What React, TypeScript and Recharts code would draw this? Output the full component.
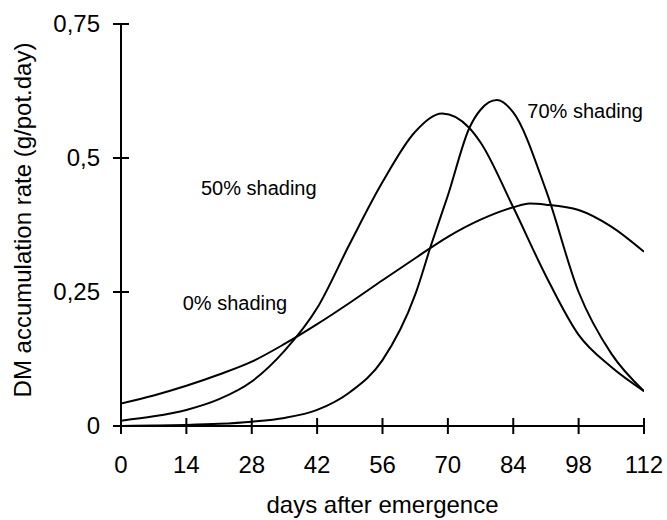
import React from 'react';
import { LineChart, Line, XAxis, YAxis, ReferenceDot } from 'recharts';

const xTicks = [0, 14, 28, 42, 56, 70, 84, 98, 112];
const yTicks = [0, 0.25, 0.5, 0.75];
const yTickLabels = ['0', '0,25', '0,5', '0,75'];

const days0 = [0, 7, 14, 21, 28, 35, 42, 49, 56, 63, 70, 77, 84, 87.5, 91, 98, 105, 112];
const shading0 = [0.042, 0.057, 0.075, 0.096, 0.12, 0.153, 0.19, 0.23, 0.272, 0.313, 0.353, 0.385, 0.408, 0.415, 0.413, 0.403, 0.372, 0.325];

const days50 = [0, 7, 14, 21, 28, 35, 42, 49, 56, 63, 68.8, 74.6, 77, 84, 91, 98, 105, 112];
const shading50 = [0.01, 0.018, 0.03, 0.05, 0.083, 0.14, 0.22, 0.34, 0.455, 0.549, 0.583, 0.556, 0.529, 0.408, 0.28, 0.17, 0.11, 0.065];

const days70 = [0, 7, 14, 21, 28, 35, 42, 49, 56, 63, 66.5, 70, 74.6, 77, 80.5, 84, 91, 98, 105, 112];
const shading70 = [0, 0.001, 0.002, 0.004, 0.008, 0.015, 0.03, 0.063, 0.123, 0.245, 0.34, 0.43, 0.556, 0.59, 0.608, 0.585, 0.44, 0.25, 0.135, 0.065];

const annotations = [
  { text: '50% shading', day: 29.5, value: 0.444 },
  { text: '0% shading', day: 24.4, value: 0.229 },
  { text: '70% shading', day: 99.4, value: 0.588 },
];

const toRows = (xs: number[], ys: number[]) => xs.map((d, i) => ({ day: d, v: ys[i] }));
const series = [
  { name: '0% shading', data: toRows(days0, shading0) },
  { name: '50% shading', data: toRows(days50, shading50) },
  { name: '70% shading', data: toRows(days70, shading70) },
];

const FONT = '"Liberation Sans", Arial, Helvetica, sans-serif';
const AXIS_FS = 24;

const XTick = (props: any) => {
  const { x, y, payload } = props;
  return (
    <g>
      <line x1={x} x2={x} y1={y - 8} y2={y + 8} stroke="#000" strokeWidth={2} />
      <text x={x} y={y + 47} textAnchor="middle" fontSize={AXIS_FS} fontFamily={FONT} fill="#000">
        {payload.value}
      </text>
    </g>
  );
};

const YTick = (props: any) => {
  const { x, y, payload } = props;
  const idx = yTicks.indexOf(payload.value);
  return (
    <g>
      <line x1={x - 8} x2={x + 8} y1={y} y2={y} stroke="#000" strokeWidth={2} />
      <text x={x - 21} y={y + 8} textAnchor="end" fontSize={AXIS_FS} fontFamily={FONT} fill="#000">
        {idx >= 0 ? yTickLabels[idx] : String(payload.value)}
      </text>
    </g>
  );
};

const YLabel = (props: any) => {
  const { viewBox } = props;
  const cx = 31;
  const cy = viewBox.y + viewBox.height / 2 - 5;
  return (
    <text x={cx} y={cy} transform={`rotate(-90, ${cx}, ${cy})`} textAnchor="middle" fontSize={AXIS_FS} fontFamily={FONT} fill="#000">
      DM accumulation rate (g/pot.day)
    </text>
  );
};

const XLabel = (props: any) => {
  const { viewBox } = props;
  const cx = viewBox.x + viewBox.width / 2;
  return (
    <text x={cx} y={513} textAnchor="middle" fontSize={AXIS_FS} fontFamily={FONT} fill="#000">
      days after emergence
    </text>
  );
};

export default function App() {
  return (
    <div style={{ position: 'absolute', left: 0, top: 0, width: 667, height: 520, background: '#fff' }}>
      <LineChart width={667} height={520} margin={{ top: 24, right: 23, bottom: 0, left: 0 }}>
        <XAxis
          type="number"
          dataKey="day"
          domain={[0, 112]}
          ticks={xTicks}
          allowDataOverflow
          height={94}
          stroke="#000"
          strokeWidth={2}
          tickLine={false}
          tickSize={0}
          tickMargin={0}
          tick={<XTick />}
          interval={0}
          label={<XLabel />}
        />
        <YAxis
          type="number"
          dataKey="v"
          domain={[0, 0.75]}
          ticks={yTicks}
          allowDataOverflow
          width={121}
          stroke="#000"
          strokeWidth={2}
          tickLine={false}
          tickSize={0}
          tickMargin={0}
          tick={<YTick />}
          interval={0}
          label={<YLabel />}
        />
        {series.map((s) => (
          <Line
            key={s.name}
            data={s.data}
            dataKey="v"
            name={s.name}
            type="monotone"
            stroke="#000"
            strokeWidth={2}
            dot={false}
            activeDot={false}
            isAnimationActive={false}
          />
        ))}
        {annotations.map((a) => (
          <ReferenceDot
            key={a.text}
            x={a.day}
            y={a.value}
            r={0}
            fill="none"
            stroke="none"
            label={{ value: a.text, position: 'center', fontSize: 20, fill: '#000', fontFamily: FONT }}
          />
        ))}
      </LineChart>
    </div>
  );
}
